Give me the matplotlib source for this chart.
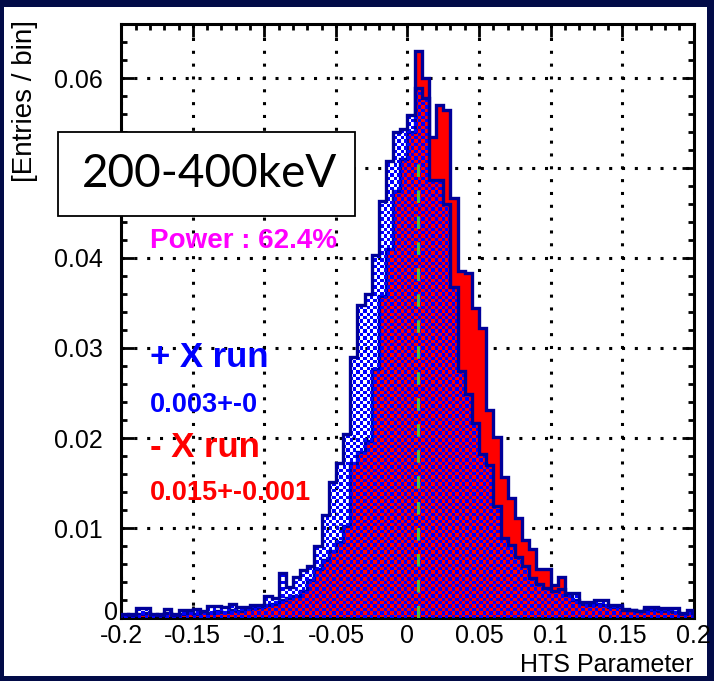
import numpy as np
import matplotlib
matplotlib.use('Agg')
import matplotlib.pyplot as plt
from matplotlib.patches import Rectangle
from matplotlib.ticker import MultipleLocator, FixedLocator, FixedFormatter

plt.rcParams['font.family'] = ['Liberation Sans', 'DejaVu Sans']
plt.rcParams['axes.unicode_minus'] = False

# histogram: 80 bins from -0.2 to 0.2, normalised (Entries / bin)
x_lo, x_hi, n_bins = -0.2, 0.2, 80
plus_x = [0.0004, 0.0003, 0.0011, 0.0011, 0.0004, 0.0003, 0.0010, 0.0003, 0.0009, 0.0009,
          0.0010, 0.0008, 0.0013, 0.0013, 0.0012, 0.0016, 0.0012, 0.0012, 0.0015, 0.0015,
          0.0024, 0.0022, 0.0050, 0.0034, 0.0046, 0.0053, 0.0058, 0.0080, 0.0114, 0.0151,
          0.0172, 0.0204, 0.0290, 0.0348, 0.0360, 0.0403, 0.0463, 0.0508, 0.0540, 0.0543,
          0.0559, 0.0589, 0.0578, 0.0487, 0.0487, 0.0460, 0.0368, 0.0275, 0.0249, 0.0217,
          0.0182, 0.0170, 0.0124, 0.0089, 0.0081, 0.0068, 0.0058, 0.0045, 0.0038, 0.0033,
          0.0030, 0.0032, 0.0028, 0.0028, 0.0018, 0.0018, 0.0020, 0.0020, 0.0015, 0.0015,
          0.0009, 0.0009, 0.0008, 0.0012, 0.0012, 0.0011, 0.0011, 0.0011, 0.0006, 0.0009]
minus_x = [0.0003, 0.0004, 0.0005, 0.0006, 0.0003, 0.0005, 0.0006, 0.0004, 0.0005, 0.0006,
           0.0005, 0.0007, 0.0006, 0.0008, 0.0007, 0.0009, 0.0008, 0.0010, 0.0011, 0.0012,
           0.0014, 0.0016, 0.0020, 0.0022, 0.0025, 0.0030, 0.0042, 0.0055, 0.0065, 0.0075,
           0.0084, 0.0102, 0.0172, 0.0185, 0.0197, 0.0277, 0.0358, 0.0410, 0.0474, 0.0510,
           0.0540, 0.0630, 0.0600, 0.0535, 0.0570, 0.0564, 0.0467, 0.0386, 0.0383, 0.0344,
           0.0322, 0.0231, 0.0201, 0.0157, 0.0133, 0.0111, 0.0087, 0.0077, 0.0055, 0.0054,
           0.0037, 0.0046, 0.0026, 0.0020, 0.0016, 0.0015, 0.0016, 0.0014, 0.0012, 0.0012,
           0.0010, 0.0009, 0.0008, 0.0010, 0.0009, 0.0008, 0.0008, 0.0007, 0.0005, 0.0006]
ref_line_x = 0.007
ref_line_top = 0.0505
y_max = 0.066

x_ticks = [-0.2, -0.15, -0.1, -0.05, 0, 0.05, 0.1, 0.15, 0.2]
x_ticklabels = ['-0.2', '-0.15', '-0.1', '-0.05', '0', '0.05', '0.1', '0.15', '0.2']
y_ticks = [0, 0.01, 0.02, 0.03, 0.04, 0.05, 0.06]
# 0 is placed by hand, 0.05 sits under the energy box on the slide
y_ticklabels = ['', '0.01', '0.02', '0.03', '0.04', '', '0.06']

navy = '#00009a'
edges = np.linspace(x_lo, x_hi, n_bins + 1)

fig = plt.figure(figsize=(7.14, 6.81), dpi=100)
fig.patch.set_facecolor('#020b48')
fig.add_artist(Rectangle((4 / 714, 5 / 681), 703 / 714, 669 / 681, transform=fig.transFigure,
                         facecolor='white', edgecolor='none', zorder=0))

ax = fig.add_axes([121.3 / 714, 1 - 618 / 681, 572.4 / 714, 594 / 681])
ax.set_axisbelow(True)
ax.grid(True, color='black', linestyle=(0, (1, 3.2)), linewidth=2.2)

# -X run: solid red
ax.stairs(minus_x, edges, fill=True, facecolor='#ff0000', edgecolor=navy, linewidth=2.4, zorder=2)

# +X run: blue checker pattern, transparent between squares
blue_patch = ax.stairs(plus_x, edges, fill=True, facecolor='none', edgecolor=navy,
                       linewidth=2.4, zorder=4)
nx, ny = 168, 175
cells = np.indices((ny, nx)).sum(axis=0) % 2
tex = np.zeros((ny, nx, 4))
tex[..., 2] = 1.0
tex[..., 3] = cells
im = ax.imshow(tex, extent=(x_lo, x_hi, 0, y_max), aspect='auto', interpolation='nearest',
               origin='lower', zorder=3)
im.set_clip_path(blue_patch)

ax.plot([ref_line_x, ref_line_x], [0, ref_line_top], color='#55b849', linewidth=2.2,
        dashes=(4.1, 4.4), zorder=5)

ax.set_xlim(x_lo, x_hi)
ax.set_ylim(0, y_max)
ax.xaxis.set_major_locator(FixedLocator(x_ticks))
ax.xaxis.set_major_formatter(FixedFormatter(x_ticklabels))
ax.yaxis.set_major_locator(FixedLocator(y_ticks))
ax.yaxis.set_major_formatter(FixedFormatter(y_ticklabels))
ax.xaxis.set_minor_locator(MultipleLocator(0.01))
ax.yaxis.set_minor_locator(MultipleLocator(0.002))
ax.tick_params(which='both', direction='in', top=True, right=True, width=2, color='black')
ax.tick_params(which='major', length=9)
ax.tick_params(which='minor', length=4.5)
ax.tick_params(axis='x', labelsize=18, pad=4)
ax.tick_params(axis='y', labelsize=18, pad=13)
for s in ax.spines.values():
    s.set_linewidth(2.2)

# ROOT puts the zero label a little closer to the axis
fig.text(118 / 714, 1 - 613 / 681, '0', ha='right', va='center', fontsize=18)

fig.text(25 / 714, 1 - 20 / 681, '[Entries / bin]', rotation=90, ha='center', va='top',
         fontsize=20)
fig.text(694 / 714, 1 - 672 / 681, 'HTS Parameter', ha='right', va='baseline', fontsize=18)

# annotations
ax.text(-0.18, 0.0411, 'Power : 62.4%', color='#ff00ff', fontsize=20, fontweight='bold',
        va='baseline', zorder=6)
ax.text(-0.18, 0.0279, '+ X run', color='#0000ff', fontsize=25, fontweight='bold',
        va='baseline', zorder=6)
ax.text(-0.18, 0.0229, '0.003+-0', color='#0000ff', fontsize=19.5, fontweight='bold',
        va='baseline', zorder=6)
ax.text(-0.18, 0.0179, '- X run', color='#ff0000', fontsize=25, fontweight='bold',
        va='baseline', zorder=6)
ax.text(-0.18, 0.0131, '0.015+-0.001', color='#ff0000', fontsize=19.5, fontweight='bold',
        va='baseline', zorder=6)

# energy range box
fig.add_artist(Rectangle((58 / 714, 1 - 216 / 681), 297 / 714, 84 / 681,
                         transform=fig.transFigure, facecolor='white', edgecolor='black',
                         linewidth=1.3, zorder=10))
fig.text(210 / 714, 1 - 174 / 681, '200-400keV', family='Lato', fontsize=33, ha='center',
         va='center', zorder=11)

fig.savefig('out.png', dpi=100, facecolor=fig.get_facecolor())
